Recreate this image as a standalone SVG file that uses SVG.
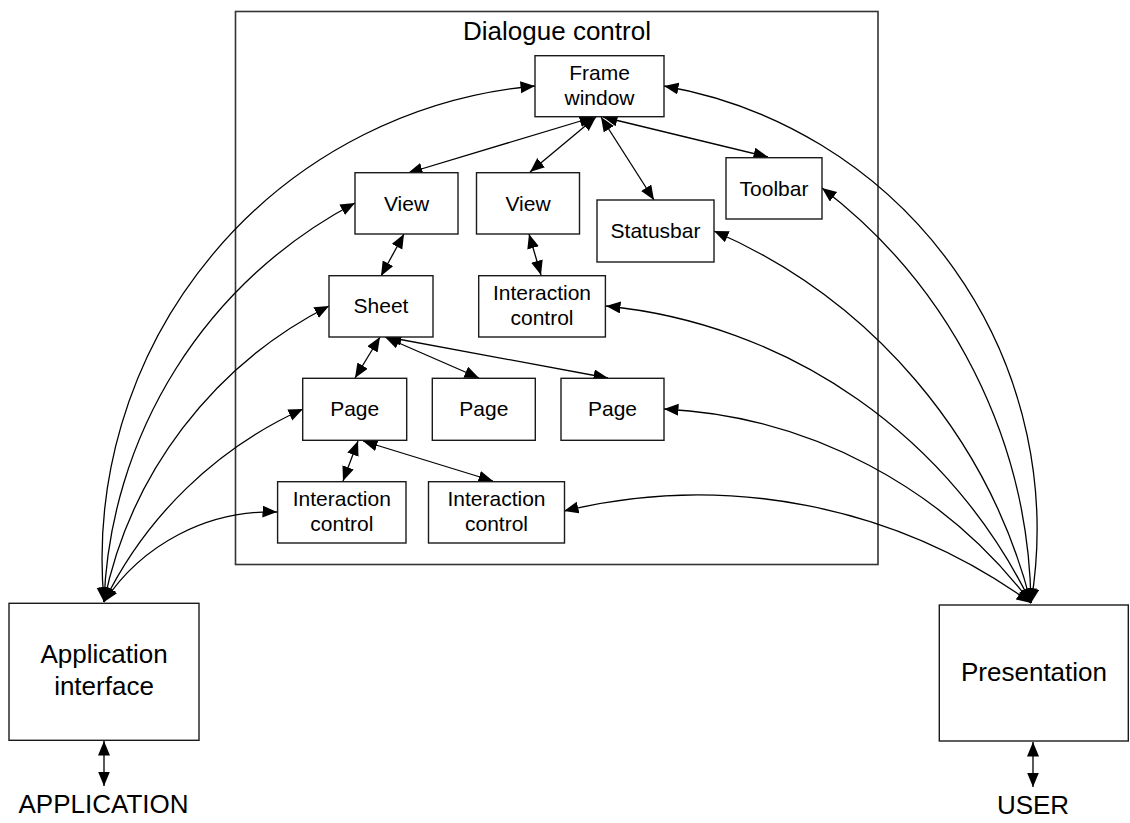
<svg xmlns="http://www.w3.org/2000/svg" width="1130" height="823" viewBox="0 0 1130 823">
  <defs>
    <marker id="ah" markerUnits="userSpaceOnUse" markerWidth="16" markerHeight="13" refX="14.5" refY="6" orient="auto-start-reverse">
      <path d="M0,0 L14.5,6 L0,12 Z" fill="#000"/>
    </marker>
  </defs>
  <style>
    .box { fill: #fff; stroke: #1a1a1a; stroke-width: 1.4; }
    .frame { fill: none; stroke: #333; stroke-width: 1.6; }
    .lbl { font-family: "Liberation Sans", Arial, sans-serif; font-size: 21px; fill: #000; text-anchor: middle; }
    .big { font-family: "Liberation Sans", Arial, sans-serif; font-size: 26px; fill: #000; text-anchor: middle; }
    .wire { fill: none; stroke: #000; stroke-width: 1.3; marker-start: url(#ah); marker-end: url(#ah); }
  </style>
  <rect width="1130" height="823" fill="#fff"/>

  <!-- container -->
  <g id="dialogue-control">
    <rect class="frame" x="235.5" y="11.5" width="642.5" height="553"/>
    <text class="big" x="557" y="40">Dialogue control</text>
  </g>

  <!-- connectors -->
  <g id="connectors">
    <!-- application interface fan -->
    <path class="wire" d="M104,602 A475,475 0 0 1 535,86"/>
    <path class="wire" d="M104,602 A470,470 0 0 1 355,203"/>
    <path class="wire" d="M104,602 A427,427 0 0 1 329,306"/>
    <path class="wire" d="M104,602 A409,409 0 0 1 303,409"/>
    <path class="wire" d="M104,602 A200,200 0 0 1 277,512"/>
    <!-- presentation fan -->
    <path class="wire" d="M1031,603 A450,450 0 0 0 664,86"/>
    <path class="wire" d="M1031,603 A532,532 0 0 0 822,188"/>
    <path class="wire" d="M1031,603 A555,555 0 0 0 714,231"/>
    <path class="wire" d="M1031,603 A530,530 0 0 0 606,306"/>
    <path class="wire" d="M1031,603 A490,490 0 0 0 664,409"/>
    <path class="wire" d="M1031,603 A567,567 0 0 0 564,511"/>
    <!-- inside dialogue control -->
    <path class="wire" d="M594,117 L408,173"/>
    <path class="wire" d="M596,117 L530,172"/>
    <path class="wire" d="M601,117 L654,200"/>
    <path class="wire" d="M603,117 L768,157"/>
    <path class="wire" d="M404,234 L381,276"/>
    <path class="wire" d="M529,234 L541,275"/>
    <path class="wire" d="M380,337 L355,378"/>
    <path class="wire" d="M385,337 L479,378"/>
    <path class="wire" d="M387,337 L608,378"/>
    <path class="wire" d="M358,441 L343,481"/>
    <path class="wire" d="M363,441 L493,481"/>
    <!-- external ends -->
    <path class="wire" d="M104,741 L104,786"/>
    <path class="wire" d="M1033,742 L1033,787"/>
  </g>

  <g id="frame-window">
    <rect class="box" x="535" y="55.7" width="129" height="61"/>
    <text class="lbl" x="599.5" y="79.5">Frame</text>
    <text class="lbl" x="599.5" y="104.5">window</text>
  </g>
  <g id="view-1">
    <rect class="box" x="355" y="172.7" width="103" height="61.3"/>
    <text class="lbl" x="406.5" y="210.5">View</text>
  </g>
  <g id="view-2">
    <rect class="box" x="476.5" y="172.7" width="103" height="61.3"/>
    <text class="lbl" x="528" y="210.5">View</text>
  </g>
  <g id="statusbar">
    <rect class="box" x="597" y="200" width="117" height="62"/>
    <text class="lbl" x="655.5" y="238">Statusbar</text>
  </g>
  <g id="toolbar">
    <rect class="box" x="726" y="157.7" width="96" height="61.3"/>
    <text class="lbl" x="774" y="195.5">Toolbar</text>
  </g>
  <g id="sheet">
    <rect class="box" x="329" y="275.7" width="104" height="61.3"/>
    <text class="lbl" x="381" y="313">Sheet</text>
  </g>
  <g id="interaction-control-view">
    <rect class="box" x="478.7" y="275.7" width="126.7" height="61.3"/>
    <text class="lbl" x="542" y="300">Interaction</text>
    <text class="lbl" x="542" y="325">control</text>
  </g>
  <g id="page-1">
    <rect class="box" x="302.7" y="378.3" width="104" height="62"/>
    <text class="lbl" x="354.7" y="416">Page</text>
  </g>
  <g id="page-2">
    <rect class="box" x="432.3" y="378.3" width="103" height="62"/>
    <text class="lbl" x="483.8" y="416">Page</text>
  </g>
  <g id="page-3">
    <rect class="box" x="561" y="378.3" width="103" height="62"/>
    <text class="lbl" x="612.5" y="416">Page</text>
  </g>
  <g id="interaction-control-page">
    <rect class="box" x="277.6" y="481.7" width="128.4" height="61.3"/>
    <text class="lbl" x="341.8" y="506">Interaction</text>
    <text class="lbl" x="341.8" y="531">control</text>
  </g>
  <g id="interaction-control-mid">
    <rect class="box" x="428.5" y="481.7" width="136" height="61.3"/>
    <text class="lbl" x="496.5" y="506">Interaction</text>
    <text class="lbl" x="496.5" y="531">control</text>
  </g>
  <g id="application-interface">
    <rect class="box" x="9" y="603.3" width="190" height="137"/>
    <text class="big" x="104" y="662.7">Application</text>
    <text class="big" x="104" y="695">interface</text>
  </g>
  <g id="presentation">
    <rect class="box" x="939.3" y="605" width="189" height="136"/>
    <text class="big" x="1034" y="681">Presentation</text>
  </g>
  <g id="application-label">
    <text class="big" x="103.5" y="813">APPLICATION</text>
  </g>
  <g id="user-label">
    <text class="big" x="1033" y="814">USER</text>
  </g>
</svg>
